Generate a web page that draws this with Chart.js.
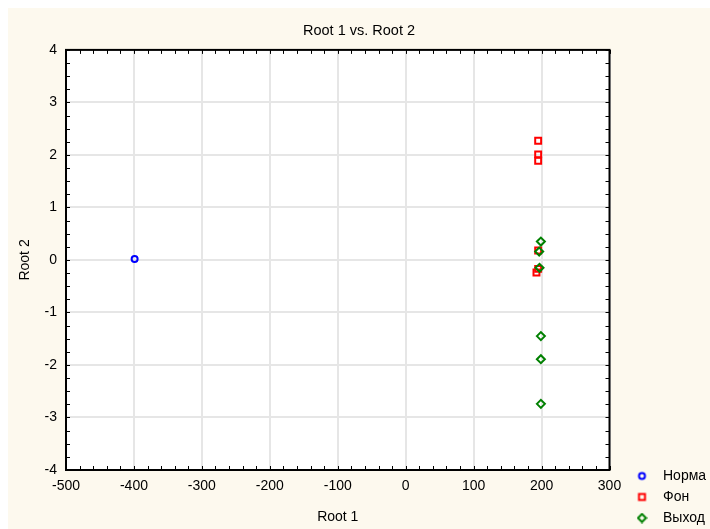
<!DOCTYPE html>
<html>
<head>
<meta charset="utf-8">
<script src="https://cdn.jsdelivr.net/npm/chart.js@4/dist/chart.umd.min.js"></script>
<style>
  html, body { overflow: hidden; }
  body { margin: 8px 0 0 8px; background: #ffffff; }
  #c { background: #fdf9ee; display: block; }
</style>
</head>
<body>
<canvas id="c" width="702" height="521"></canvas>
<script>
// ---- data ----
const seriesNames = ['Норма', 'Фон', 'Выход'];
const normaX = [-399];
const normaY = [0.02];
const fonX = [195, 195, 195, 195, 195, 192.5];
const fonY = [2.27, 2.01, 1.89, 0.18, -0.17, -0.24];
const vyhodX = [199, 196.5, 197, 199, 199, 199];
const vyhodY = [0.35, 0.16, -0.15, -1.45, -1.89, -2.74];
const xTickValues = [-500, -400, -300, -200, -100, 0, 100, 200, 300];
const yTickValues = [-4, -3, -2, -1, 0, 1, 2, 3, 4];

const FONT = "'Liberation Sans', Arial, sans-serif";
const zip = (xs, ys) => xs.map((x, i) => ({ x: x, y: ys[i] }));

function legendMarker(style, color) {
  const cv = document.createElement('canvas');
  cv.width = 11; cv.height = 11;
  const g = cv.getContext('2d');
  g.strokeStyle = color; g.lineWidth = 2;
  g.beginPath();
  if (style === 'circle') g.arc(5.5, 5.5, 3, 0, Math.PI * 2);
  else if (style === 'rect') g.rect(2.5, 2.5, 6, 6);
  else { g.moveTo(5.5, 1.5); g.lineTo(9.5, 5.5); g.lineTo(5.5, 9.5); g.lineTo(1.5, 5.5); g.closePath(); }
  g.stroke();
  return cv;
}

const styles = [
  { style: 'circle', color: '#0000ff', radius: 3 },
  { style: 'rect', color: '#ff0000', radius: 4.2 },
  { style: 'rectRot', color: '#008000', radius: 4 }
];
const markers = styles.map(s => legendMarker(s.style, s.color));

const bgPlugin = {
  id: 'plotBg',
  beforeDraw(chart) {
    const a = chart.chartArea, ctx = chart.ctx;
    ctx.save(); ctx.fillStyle = '#ffffff';
    ctx.fillRect(a.left, a.top, a.right - a.left, a.bottom - a.top);
    ctx.restore();
  },
  afterDraw(chart) {
    const a = chart.chartArea, ctx = chart.ctx;
    const xs = chart.scales.x, ys = chart.scales.y;
    ctx.save();
    ctx.strokeStyle = '#000'; ctx.lineWidth = 1;
    ctx.beginPath();
    for (let v = xs.min; v <= xs.max + 1e-9; v += 20) {
      const p = Math.round(xs.getPixelForValue(v)) + 0.5;
      ctx.moveTo(p, a.bottom); ctx.lineTo(p, a.bottom - 4);
      ctx.moveTo(p, a.top); ctx.lineTo(p, a.top + 4);
    }
    for (let v = ys.min; v <= ys.max + 1e-9; v += 0.25) {
      const p = Math.round(ys.getPixelForValue(v)) + 0.5;
      ctx.moveTo(a.left, p); ctx.lineTo(a.left + 4, p);
      ctx.moveTo(a.right, p); ctx.lineTo(a.right - 4, p);
    }
    ctx.stroke();
    ctx.lineWidth = 2;
    ctx.strokeRect(a.left, a.top, a.right - a.left, a.bottom - a.top);
    ctx.restore();
  }
};

new Chart(document.getElementById('c'), {
  type: 'scatter',
  data: {
    datasets: [
      { label: seriesNames[0], data: zip(normaX, normaY), order: 2 },
      { label: seriesNames[1], data: zip(fonX, fonY), order: 1 },
      { label: seriesNames[2], data: zip(vyhodX, vyhodY), order: 0 }
    ].map((d, i) => Object.assign(d, {
      pointStyle: styles[i].style,
      borderColor: styles[i].color,
      backgroundColor: 'rgba(0,0,0,0)',
      pointRadius: styles[i].radius,
      pointHoverRadius: styles[i].radius,
      pointBorderWidth: 2
    }))
  },
  options: {
    responsive: false,
    animation: false,
    layout: { padding: { top: 0, left: 0, right: 0, bottom: -3 } },
    plugins: {
      title: {
        display: true,
        text: 'Root 1 vs. Root 2',
        color: '#000',
        font: { family: FONT, size: 14.5, weight: 'normal' },
        padding: { top: 14.5, bottom: 10 }
      },
      legend: {
        display: true,
        position: 'right',
        align: 'end',
        maxWidth: 89,
        labels: {
          color: '#000',
          font: { family: FONT, size: 14 },
          padding: 7,
          usePointStyle: true,
          pointStyleWidth: 28,
          boxHeight: 8,
          sort: (a, b) => a.datasetIndex - b.datasetIndex,
          generateLabels(chart) {
            const items = Chart.defaults.plugins.legend.labels.generateLabels(chart);
            items.forEach(it => { it.pointStyle = markers[it.datasetIndex]; });
            return items;
          }
        }
      },
      tooltip: { enabled: false }
    },
    scales: {
      x: {
        type: 'linear',
        min: xTickValues[0], max: xTickValues[xTickValues.length - 1],
        afterBuildTicks: s => { s.ticks = xTickValues.map(v => ({ value: v })); },
        afterFit: s => { s.height = 62; },
        grid: { color: '#e6e6e6', lineWidth: 2, drawTicks: false },
        border: { display: false },
        ticks: { color: '#000', font: { family: FONT, size: 14 }, padding: 8, maxRotation: 0 },
        title: { display: true, text: 'Root 1', color: '#000', font: { family: FONT, size: 14 }, padding: { top: 0, bottom: 6 } }
      },
      y: {
        type: 'linear',
        min: yTickValues[0], max: yTickValues[yTickValues.length - 1],
        afterBuildTicks: s => { s.ticks = yTickValues.map(v => ({ value: v })); },
        afterFit: s => { s.width = 58; },
        grid: { color: '#e6e6e6', lineWidth: 2, drawTicks: false },
        border: { display: false },
        ticks: { color: '#000', font: { family: FONT, size: 14 }, padding: 9 },
        title: { display: true, text: 'Root 2', color: '#000', font: { family: FONT, size: 14 }, padding: { top: 9, bottom: 0 } }
      },
      gap: {
        type: 'linear',
        axis: 'y',
        position: 'right',
        display: true,
        afterFit: s => { s.width = 11.5; },
        grid: { display: false },
        border: { display: false },
        ticks: { display: false }
      }
    }
  },
  plugins: [bgPlugin]
});
</script>
</body>
</html>
